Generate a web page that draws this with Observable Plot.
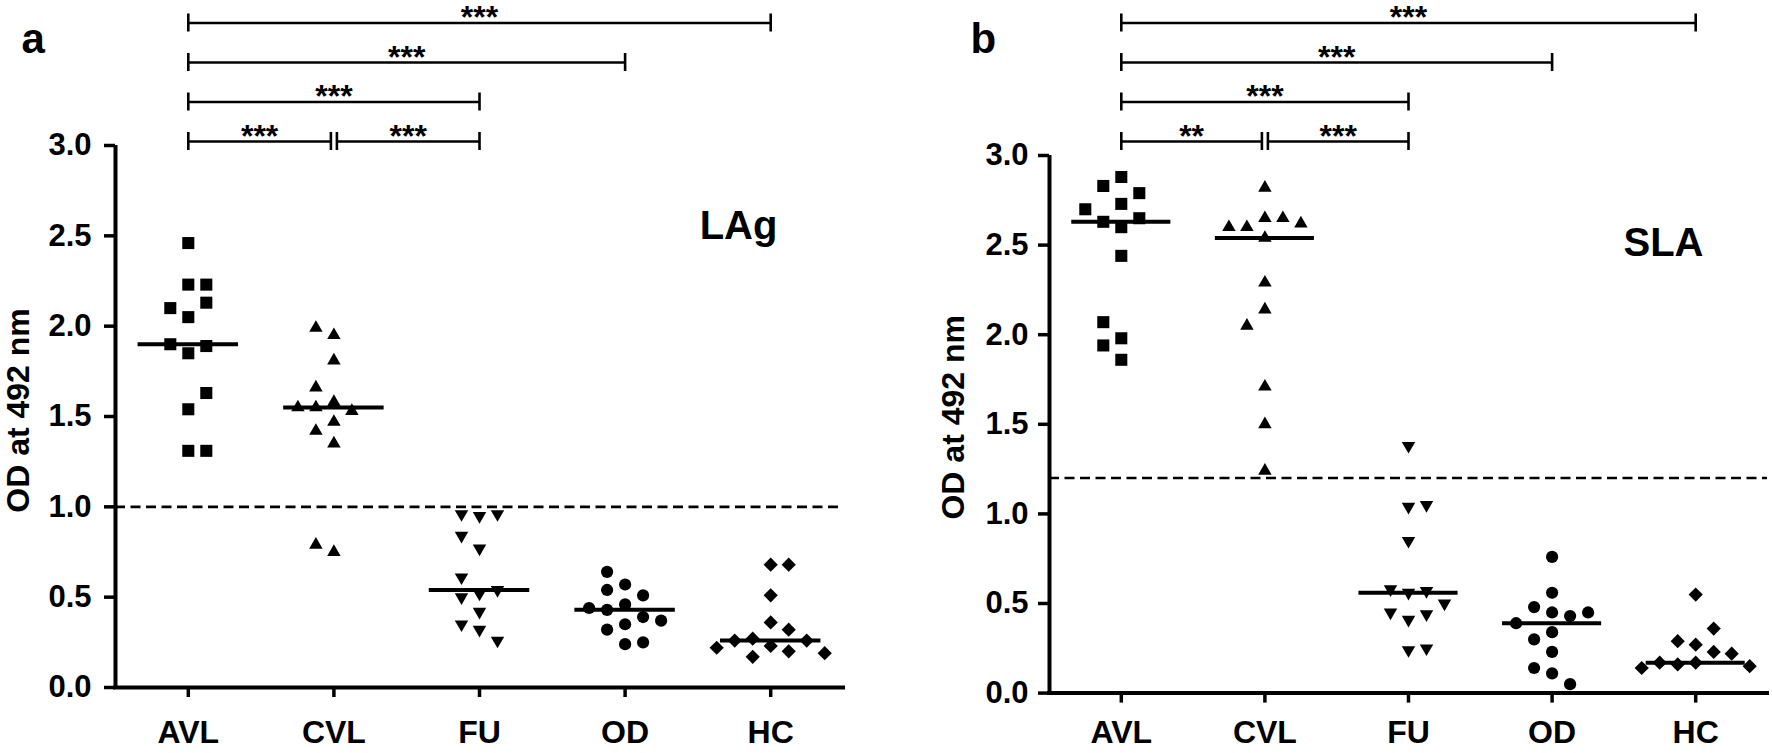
<!DOCTYPE html>
<html>
<head>
<meta charset="utf-8">
<script src="https://cdn.jsdelivr.net/npm/d3@7"></script>
<script src="https://cdn.jsdelivr.net/npm/@observablehq/plot@0.6"></script>
<style>
html, body { margin: 0; padding: 0; background: #fff; }
#wrap { display: flex; width: 1772px; height: 753px; overflow: hidden; }
</style>
</head>
<body>
<div id="wrap"></div>
<script>
// ---------- data ----------
const groups = ["AVL", "CVL", "FU", "OD", "HC"];

// Panel a: LAg (OD at 492 nm)
const lagAVL = [2.46, 2.23, 2.23, 2.05, 2.13, 2.10, 1.85, 1.89, 1.90, 1.54, 1.63, 1.31, 1.31];
const lagCVL = [1.95, 1.99, 1.81, 1.58, 1.66, 1.55, 1.53, 1.55, 1.47, 1.42, 1.35, 0.75, 0.79];
const lagFU  = [0.95, 0.96, 0.96, 0.77, 0.84, 0.52, 0.61, 0.54, 0.50, 0.42, 0.35, 0.32, 0.26];
const lagOD  = [0.57, 0.64, 0.54, 0.51, 0.46, 0.43, 0.44, 0.39, 0.37, 0.35, 0.32, 0.24, 0.25];
const lagHC  = [0.68, 0.68, 0.51, 0.36, 0.32, 0.27, 0.23, 0.26, 0.26, 0.20, 0.17, 0.19, 0.22];
const lagCutoff = 1.0;

// Panel b: SLA (OD at 492 nm)
const slaAVL = [2.88, 2.83, 2.79, 2.73, 2.60, 2.63, 2.65, 2.70, 2.44, 1.98, 2.07, 1.86, 1.94];
const slaCVL = [2.82, 2.65, 2.54, 2.60, 2.65, 2.60, 2.62, 2.29, 2.14, 2.05, 1.71, 1.50, 1.24];
const slaFU  = [1.38, 1.04, 1.05, 0.85, 0.56, 0.57, 0.58, 0.41, 0.44, 0.45, 0.50, 0.24, 0.25];
const slaOD  = [0.76, 0.56, 0.45, 0.48, 0.43, 0.39, 0.45, 0.34, 0.30, 0.23, 0.14, 0.11, 0.05];
const slaHC  = [0.55, 0.27, 0.36, 0.29, 0.23, 0.22, 0.17, 0.16, 0.17, 0.15, 0.14, 0.14, 0.16];
const slaCutoff = 1.2;

// significance comparisons
const compFrom = ["AVL", "CVL", "AVL", "AVL", "AVL"];
const compTo   = ["CVL", "FU",  "FU",  "OD",  "HC"];
const starsLag = ["***", "***", "***", "***", "***"];
const starsSla = ["**",  "***", "***", "***", "***"];

const yTicks = [0, 0.5, 1.0, 1.5, 2.0, 2.5, 3.0];

// ---------- drawing ----------
const W = 886, H = 753;
const FONT = "'Liberation Sans', Arial, Helvetica, sans-serif";

const downTriangle = {
  draw(context, size) {
    const s3 = Math.sqrt(3);
    const y = Math.sqrt(size / (s3 * 3));
    context.moveTo(0, 2 * y);
    context.lineTo(-s3 * y, -y);
    context.lineTo(s3 * y, -y);
    context.closePath();
  }
};
const symbols = ["square", "triangle", downTriangle, "circle", "diamond2"];
const radii = [6.8, 5.0, 5.0, 6.1, 6.4];
const PREF = {R: [0, 1, -1, 2, -2, 3, -3], L: [0, -1, 1, -2, 2, -3, 3]};

function panel(cfg) {
  const {series, cutoff, stars, tag, name, ml, mr, mt, mb, tickPad, xPad, prefs,
         tagDx, tagDy, nameDx, nameDy, ylabDx, ylabDy} = cfg;
  const spacing = (W - mr - ml) / 5;
  const ppu = (H - mb - mt) / 3;
  const slotW = 18 / spacing;
  const T = 0.095;

  const pts = [], med = [];
  series.forEach((vals, gi) => {
    const placed = [];
    vals.forEach(v => {
      for (const s of PREF[prefs[gi]]) {
        if (!placed.some(p => p.s === s && Math.abs(p.v - v) < T)) { placed.push({v, s}); break; }
      }
    });
    placed.forEach(p => pts.push({gi, v: p.v, x: gi + p.s * slotW}));
    med.push({gi, m: d3.median(vals)});
  });

  // brackets
  const comps = compFrom.map((f, i) => ({a: groups.indexOf(f), b: groups.indexOf(compTo[i]), label: stars[i]}));
  const levels = [];
  comps.slice().sort((p, q) => (p.b - p.a) - (q.b - q.a)).forEach(c => {
    let L = 0;
    while ((levels[L] || []).some(o => c.a < o.b && o.a < c.b)) L++;
    (levels[L] = levels[L] || []).push(c);
    c.level = L;
  });
  const gap = 3 / spacing;
  comps.forEach(c => {
    const same = levels[c.level];
    c.xa = c.a + (same.some(o => o !== c && o.b === c.a) ? gap : 0);
    c.xb = c.b - (same.some(o => o !== c && o.a === c.b) ? gap : 0);
    const py = 141 - c.level * 39.5;
    c.y = (H - mb - py) / ppu;
    c.xm = (c.xa + c.xb) / 2;
  });
  const cap = 9 / ppu;
  const ends = comps.flatMap(c => [{x: c.xa, y: c.y}, {x: c.xb, y: c.y}]);

  return Plot.plot({
    width: W, height: H,
    marginLeft: ml, marginRight: mr, marginTop: mt, marginBottom: mb,
    x: {domain: [-0.5, 4.5]},
    y: {domain: [0, 3]},
    style: {fontFamily: FONT, fontWeight: "bold", background: "white", overflow: "visible", color: "black"},
    marks: [
      Plot.ruleY([cutoff], {strokeWidth: 2.6, strokeDasharray: "10,5.5"}),
      Plot.ruleY([0], {strokeWidth: 4, strokeLinecap: "square"}),
      Plot.ruleX([-0.5], {y1: 0, y2: 3, strokeWidth: 4}),
      Plot.axisY({ticks: yTicks, tickFormat: d3.format(".1f"), tickSize: 11, tickPadding: tickPad,
                  strokeWidth: 3.5, label: null, fontSize: 31, fontWeight: "bold"}),
      Plot.axisX({ticks: [0, 1, 2, 3, 4], tickFormat: i => groups[i], tickSize: 10, tickPadding: xPad,
                  strokeWidth: 3.5, label: null, fontSize: 32, fontWeight: "bold"}),
      ...series.map((_, gi) => Plot.dot(pts.filter(p => p.gi === gi),
        {x: "x", y: "v", symbol: symbols[gi], r: radii[gi], fill: "black", stroke: "none"})),
      Plot.ruleY(med, {x1: d => d.gi - 0.345, x2: d => d.gi + 0.345, y: "m", strokeWidth: 4}),
      Plot.ruleY(comps, {x1: "xa", x2: "xb", y: "y", strokeWidth: 2.6}),
      Plot.ruleX(ends, {x: "x", y1: d => d.y - cap, y2: d => d.y + cap, strokeWidth: 2.6}),
      Plot.text(comps, {x: "xm", y: "y", text: "label", lineAnchor: "bottom", dy: 5, fontSize: 32, fontWeight: "bold"}),
      Plot.text([name], {frameAnchor: "top-left", dx: nameDx, dy: nameDy, textAnchor: "middle", lineAnchor: "bottom", fontSize: 40, fontWeight: "bold"}),
      Plot.text([tag], {frameAnchor: "top-left", dx: tagDx, dy: tagDy, textAnchor: "start", lineAnchor: "bottom", fontSize: 42, fontWeight: "bold"}),
      Plot.text(["OD at 492 nm"], {frameAnchor: "left", dx: ylabDx, dy: ylabDy, rotate: -90, textAnchor: "middle", fontSize: 32, fontWeight: "bold"})
    ]
  });
}

const wrap = document.getElementById("wrap");
wrap.appendChild(panel({
  series: [lagAVL, lagCVL, lagFU, lagOD, lagHC], cutoff: lagCutoff, stars: starsLag,
  tag: "a", name: "LAg", ml: 115, mr: 43, mt: 145, mb: 66, tickPad: 13, xPad: 23,
  prefs: ["R", "L", "L", "L", "R"],
  tagDx: 21 - 115, tagDy: 52 - 145, nameDx: 738 - 115, nameDy: 238 - 145,
  ylabDx: 18 - 115, ylabDy: -6
}));
wrap.appendChild(panel({
  series: [slaAVL, slaCVL, slaFU, slaOD, slaHC], cutoff: slaCutoff, stars: starsSla,
  tag: "b", name: "SLA", ml: 163, mr: 5, mt: 155, mb: 60.4, tickPad: 10, xPad: 17.5,
  prefs: ["L", "L", "R", "L", "R"],
  tagDx: 84 - 163, tagDy: 52 - 155, nameDx: 777 - 163, nameDy: 255 - 155,
  ylabDx: 67 - 163, ylabDy: -7
}));
</script>
</body>
</html>
